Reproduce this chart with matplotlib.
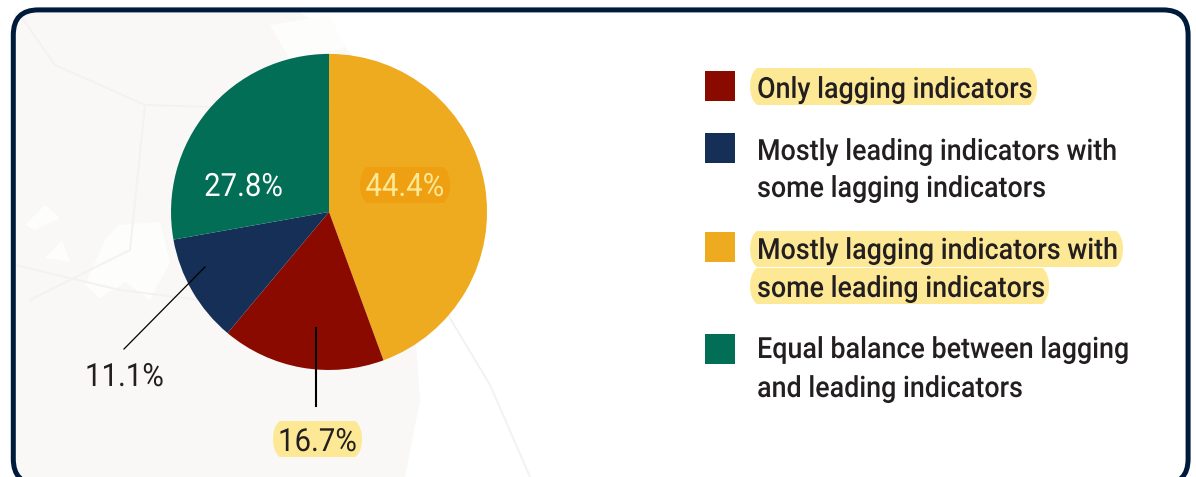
import matplotlib
matplotlib.use("Agg")
import numpy as np
import matplotlib.pyplot as plt
from matplotlib.patches import FancyBboxPatch, Rectangle, Polygon
from matplotlib.text import Text
from matplotlib.textpath import TextPath
from matplotlib.transforms import Affine2D

W, H = 1196, 477

categories = [
    "Mostly lagging indicators with\nsome leading indicators",
    "Only lagging indicators",
    "Mostly leading indicators with\nsome lagging indicators",
    "Equal balance between lagging\nand leading indicators",
]
values = [44.4, 16.7, 11.1, 27.8]

GOLD = "#EEAB1F"
RED = "#8A0A00"
NAVY = "#152F57"
GREEN = "#016E55"
FRAME = "#001A3B"
HILITE = "#FDE995"
INK = "#231F20"
MAP_BG = "#F9F8F7"
MAP_LINE = "#F3F2F1"

plt.rcParams["font.family"] = ["Roboto", "DejaVu Sans"]


class NarrowText(Text):
    # Text drawn from its outline, squeezed sideways to get a condensed face
    squeeze = 0.92

    def draw(self, renderer):
        fp = self.get_fontproperties()
        size = fp.get_size_in_points() * self.get_figure().dpi / 72
        path = TextPath((0, 0), self.get_text(), size=size, prop=fp)
        x, y = self.get_transform().transform(self.get_position())
        if self.get_ha() == "center":
            ext = path.get_extents()
            x -= (ext.x0 + ext.x1) / 2 * self.squeeze
        trans = Affine2D().scale(self.squeeze, 1).translate(x, y)
        gc = renderer.new_gc()
        gc.set_antialiased(True)
        gc.set_linewidth(0)
        renderer.draw_path(gc, path, trans, matplotlib.colors.to_rgb(self.get_color()))
        gc.restore()


def py(y):
    # y measured from the top edge, in pixels
    return H - np.asarray(y, dtype=float)


def pill(ax, x0, y0, x1, y1, color, z=3):
    # wide rounded ends cut off flat at the top and bottom
    r = (y1 - y0) / 2 + 5
    p = FancyBboxPatch(
        (x0 + r, py(y1 + 5) + r), x1 - x0 - 2 * r, y1 - y0 + 10 - 2 * r,
        boxstyle=f"round,pad={r},rounding_size={r}",
        fc=color, ec="none", zorder=z,
    )
    ax.add_patch(p)
    p.set_clip_path(Rectangle((x0, py(y1)), x1 - x0, y1 - y0, transform=ax.transData))


fig = plt.figure(figsize=((W + 0.1) / 100, (H + 0.1) / 100), dpi=100)
ax = fig.add_axes([0, 0, 1, 1])

# faint map behind the pie
ax.add_patch(Polygon(
    [(14, py(12)), (300, py(12)), (340, py(40)), (400, py(120)), (420, py(400)),
     (405, py(477)), (14, py(477))],
    fc=MAP_BG, ec="none", zorder=0,
))
for blob in [
    [(25, py(225)), (45, py(205)), (60, py(218)), (35, py(230))],
    [(45, py(258)), (62, py(240)), (70, py(262))],
    [(85, py(285)), (105, py(240)), (118, py(225)), (160, py(222)), (170, py(262)),
     (150, py(300)), (125, py(282)), (100, py(298))],
    [(270, py(25)), (330, py(15)), (345, py(48)), (290, py(60))],
]:
    ax.add_patch(Polygon(blob, fc="#FDFDFC", ec="none", zorder=1))
for xs, ys in [
    ([20, 55, 145, 240, 330], [15, 65, 105, 108, 110]),
    ([15, 120, 240], [265, 290, 305]),
    ([445, 490, 530], [310, 385, 477]),
    ([145, 130, 30], [105, 250, 300]),
]:
    ax.plot(xs, py(ys), color=MAP_LINE, lw=1.4, zorder=1)

# pie
ax.pie(
    values,
    colors=[GOLD, RED, NAVY, GREEN],
    startangle=90,
    counterclock=False,
    center=(329, py(212)),
    radius=158,
    frame=True,
    wedgeprops={"linewidth": 0, "zorder": 2},
)
ax.set_xlim(0, W)
ax.set_ylim(0, H)
ax.set_aspect("auto")
ax.axis("off")

# outer panel, running off the bottom edge
ax.add_patch(FancyBboxPatch(
    (13.3 + 25, py(484) + 25), 1174.7 - 50, 474 - 50,
    boxstyle="round,pad=25,rounding_size=25",
    fill=False, ec=FRAME, lw=3.6, zorder=5,
))

# highlights behind the value labels
pill(ax, 360, 167, 450, 203, "#EE9F12")
pill(ax, 273, 421, 362, 457, HILITE)

# leader lines
ax.plot([124, 205], py([349, 267]), color="black", lw=0.9, zorder=4)
ax.plot([316, 316], py([328, 406]), color="black", lw=1.5, zorder=4)

label_pos = [(404.5, 196), (318, 451), (125, 386), (243.5, 196)]
label_col = ["#FDE995", INK, INK, "white"]
for v, (x, y), c in zip(values, label_pos, label_col):
    ax.add_artist(NarrowText(x, py(y), f"{v:.1f}%", color=c, fontsize=23,
                             ha="center", va="baseline", zorder=6))

# legend
pill(ax, 750, 68, 1037, 105, HILITE)
pill(ax, 750, 231, 1123, 267, HILITE)
pill(ax, 750, 268, 1049, 304, HILITE)

legend_order = [1, 2, 0, 3]
swatch_tops = [71, 133, 232, 334]
baselines = [[98], [160, 197], [259, 297], [358, 397]]
swatch_cols = [GOLD, RED, NAVY, GREEN]
for i, top, bl in zip(legend_order, swatch_tops, baselines):
    ax.add_patch(Rectangle((705, py(top + 30)), 30, 30, fc=swatch_cols[i], ec="none", zorder=3))
    for line, y in zip(categories[i].split("\n"), bl):
        ax.add_artist(NarrowText(757, py(y), line, color=INK, fontsize=21, fontweight="medium",
                                 ha="left", va="baseline", zorder=6))

fig.savefig("out.png", dpi=100)
